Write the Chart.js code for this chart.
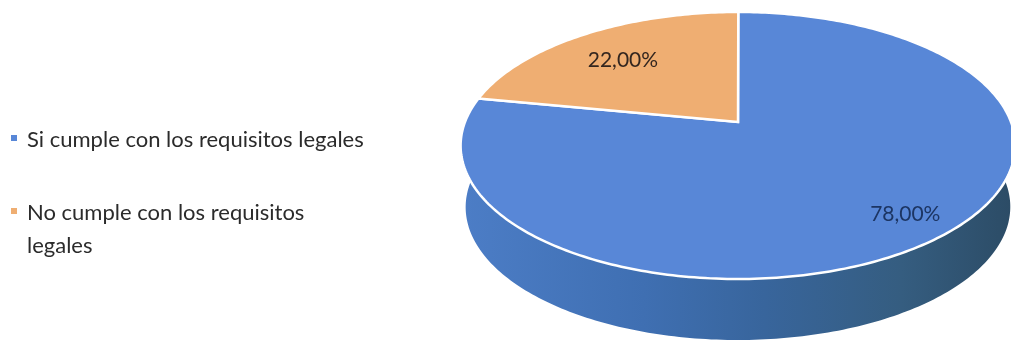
<!DOCTYPE html>
<html>
<head>
<meta charset="utf-8">
<script src="https://cdn.jsdelivr.net/npm/chart.js@4"></script>
<style>
  body { margin: 0; background: #fff; overflow: hidden; }
  #wrap { position: relative; width: 1011px; height: 340px; }
  #legend { position: absolute; left: 0; top: 0; font-family: Lato, sans-serif; font-size: 22px; color: #2b2b2b; line-height: 33px; }
  #legend div { position: absolute; left: 27px; white-space: pre; }
  #legend i { position: absolute; left: -16px; top: 13px; width: 6px; height: 6px; }
</style>
</head>
<body>
<div id="wrap">
  <canvas id="pieChart" width="1011" height="340"></canvas>
  <div id="legend"></div>
</div>
<script>
  const categories = ["Si cumple con los requisitos legales", "No cumple con los requisitos\nlegales"];
  const values = [78, 22];
  const sliceColors = ["#5887d7", "#efae72"];
  const labelColors = ["#1c3563", "#33261f"];

  // how far out along the slice each value label sits, plus a small pixel shift
  const labelReach = [0.82, 0.7];
  const labelShift = [[7, 0], [-4, 2]];
  const legendTops = [122, 195];

  /**************Tilted pie projection**************/
  const tilt = { cx: 740, skew: -2, cy: 122, a: 273, b: 107.9, k: -0.176 };
  const base = { cx: 740, cy: 145.5, sx: 272 / 277, sy: 133 / 133.5, drop: 61.5 };

  // u, v on the unit circle -> point on the tilted disc
  function project(u, v) {
    let d = 1 + tilt.k * v;
    return { x: tilt.cx + (tilt.a * u + tilt.skew) / d, y: (tilt.b * v + tilt.cy) / d };
  }
  function rimPoint(angle) {
    return project(Math.cos(angle), Math.sin(angle));
  }
  function lowerPoint(angle) {
    let p = rimPoint(angle);
    return { x: base.cx + (p.x - base.cx) * base.sx, y: base.cy + (p.y - base.cy) * base.sy + base.drop };
  }
  function traceRim(ctx, from, to, pointAt) {
    let steps = Math.max(2, Math.ceil(Math.abs(to - from) * 60));
    for (let i = 0; i <= steps; i++) {
      let p = pointAt(from + (to - from) * i / steps);
      ctx.lineTo(p.x, p.y);
    }
  }

  const tiltedPie = {
    id: 'tiltedPie',
    beforeDatasetDraw(chart, args) {
      const ctx = chart.ctx;
      const arcs = args.meta.data;

      // side wall first, the top face covers whatever is behind it
      let wall = ctx.createLinearGradient(463, 0, 1011, 0);
      wall.addColorStop(0, "#4c7dc6");
      wall.addColorStop(0.33, "#3f6fb2");
      wall.addColorStop(0.55, "#38659c");
      wall.addColorStop(0.8, "#355d80");
      wall.addColorStop(1, "#2c4c66");
      arcs.forEach((arc, i) => {
        if (i != 0) return;
        ctx.beginPath();
        traceRim(ctx, arc.startAngle, arc.endAngle, rimPoint);
        traceRim(ctx, arc.endAngle, arc.startAngle, lowerPoint);
        ctx.closePath();
        ctx.fillStyle = wall;
        ctx.fill();
      });

      arcs.forEach((arc, i) => {
        let apex = project(0, 0);
        ctx.beginPath();
        ctx.moveTo(apex.x, apex.y);
        traceRim(ctx, arc.startAngle, arc.endAngle, rimPoint);
        ctx.closePath();
        ctx.fillStyle = sliceColors[i];
        ctx.fill();
        ctx.strokeStyle = "#fff";
        ctx.lineWidth = 2.5;
        ctx.stroke();
      });

      /**************Value labels**************/
      ctx.font = '21px Lato, sans-serif';
      ctx.textAlign = 'center';
      ctx.textBaseline = 'middle';
      arcs.forEach((arc, i) => {
        let mid = (arc.startAngle + arc.endAngle) / 2;
        let p = project(Math.cos(mid) * labelReach[i], Math.sin(mid) * labelReach[i]);
        ctx.fillStyle = labelColors[i];
        ctx.fillText(values[i].toFixed(2).replace('.', ',') + '%', p.x + labelShift[i][0], p.y + labelShift[i][1]);
      });
      return false;
    }
  };

  new Chart(document.getElementById("pieChart"), {
    type: 'pie',
    data: {
      labels: categories,
      datasets: [{ data: values, backgroundColor: sliceColors, borderWidth: 0 }]
    },
    options: {
      responsive: false,
      animation: false,
      events: [],
      plugins: { legend: { display: false }, tooltip: { enabled: false } }
    },
    plugins: [tiltedPie]
  });

  /**************Legend**************/
  let legend = document.getElementById("legend");
  categories.forEach((name, i) => {
    let row = document.createElement("div");
    row.style.top = legendTops[i] + "px";
    row.textContent = name;
    let mark = document.createElement("i");
    mark.style.background = sliceColors[i];
    row.appendChild(mark);
    legend.appendChild(row);
  });
</script>
</body>
</html>
